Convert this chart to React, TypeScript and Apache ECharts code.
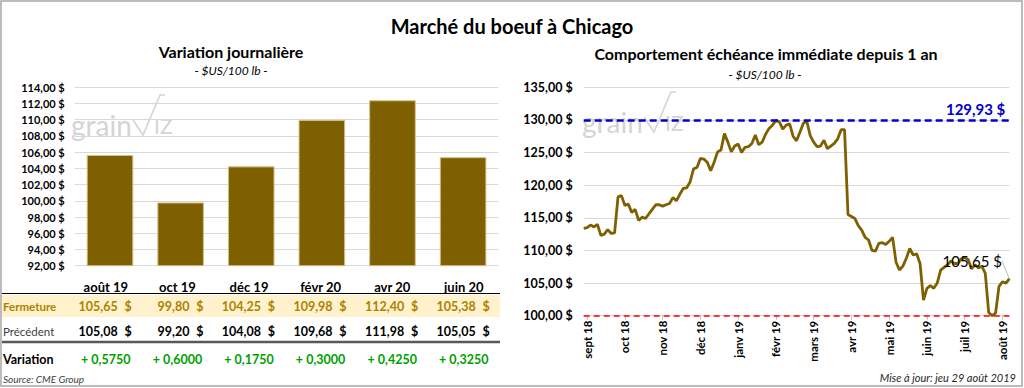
import React, { useEffect, useRef } from 'react';
import * as echarts from 'echarts';

// ---------- Left chart / table data ----------
const contracts = ['août 19', 'oct 19', 'déc 19', 'févr 20', 'avr 20', 'juin 20'];
const closePrices = [105.65, 99.8, 104.25, 109.98, 112.4, 105.38];
const previousPrices = [105.08, 99.2, 104.08, 109.68, 111.98, 105.05];
const variations = [0.575, 0.6, 0.175, 0.3, 0.425, 0.325];
const barAxis = { min: 92, max: 114, interval: 2 };

// ---------- Right chart data ----------
const dailyPrices = [
  113.4, 113.5, 113.9, 113.6, 114.0, 112.3, 112.5, 113.2, 112.6, 112.7,
  118.2, 118.4, 116.9, 117.1, 115.8, 116.3, 114.6, 115.1, 114.9, 115.6,
  116.3, 117.0, 117.0, 116.8, 117.0, 117.2, 118.1, 117.6, 118.6, 119.5,
  119.6, 120.5, 122.5, 122.7, 124.1, 124.0, 123.5, 122.2, 123.5, 125.1,
  125.4, 127.9, 126.6, 125.1, 126.0, 126.3, 125.0, 125.8, 125.9, 126.4,
  127.7, 126.2, 126.6, 127.8, 128.7, 129.2, 129.93, 129.7, 128.6, 129.2,
  129.4, 127.5, 126.8, 128.1, 129.5, 129.8, 127.6, 126.6, 125.9, 126.0,
  126.9, 125.6, 126.0, 126.4, 127.1, 128.5, 128.5, 115.5, 115.2, 114.9,
  113.8, 113.1, 112.0, 111.6, 110.0, 109.9, 111.1, 111.2, 110.9, 111.4,
  112.0, 108.2, 107.0, 107.6, 108.8, 110.3, 109.3, 109.5, 108.0, 102.4,
  104.2, 104.6, 104.2, 105.0, 107.0, 107.4, 107.8, 108.4, 108.0, 108.0,
  108.7, 108.9, 108.6, 107.2, 107.8, 107.3, 107.6, 106.5, 100.5, 100.0,
  100.4, 104.5, 105.2, 105.0, 105.65,
];
const monthLabels = ['sept 18', 'oct 18', 'nov 18', 'déc 18', 'janv 19', 'févr 19', 'mars 19', 'avr 19', 'mai 19', 'juin 19', 'juil 19', 'août 19'];
const monthStartIndex = [1, 12, 23, 34, 45, 56, 67, 78, 89, 100, 111, 122];
const yearHigh = 129.93;
const yearLow = 100.0;
const lineAxis = { min: 100, max: 135, interval: 5 };

const FONT = 'Lato';
const GOLD_TEXT = '#AD8200';
const fmt2 = (v: number) => v.toFixed(2).replace('.', ',');
const fmtMoney = (v: number) => fmt2(v) + ' $';
const fmtVar = (v: number) => (v >= 0 ? '+ ' : '- ') + Math.abs(v).toFixed(4).replace('.', ',');

function txt(text: string, x: number, y: number, opts: any = {}) {
  const align = opts.align || 'left';
  return {
    type: 'text',
    x,
    y,
    silent: true,
    z: 10,
    style: {
      text,
      fill: opts.color || '#000',
      fontSize: opts.size || 12,
      fontWeight: opts.weight || 'normal',
      fontStyle: opts.style || 'normal',
      fontFamily: FONT,
      align,
      textAlign: align,
      verticalAlign: 'middle',
      textVerticalAlign: 'middle',
    },
  };
}

function watermark(x: number, y: number) {
  const c = '#D4D4D4';
  return {
    type: 'group',
    x,
    y,
    silent: true,
    z: 1,
    children: [
      { type: 'text', x: 0, y: 0, style: { text: 'grain', fill: c, fontSize: 28, fontFamily: FONT, align: 'left', textAlign: 'left', verticalAlign: 'middle', textVerticalAlign: 'middle' } },
      { type: 'polyline', shape: { points: [[62, -5], [72, 10], [89, -30], [94, -30]] }, style: { stroke: c, lineWidth: 1.6, fill: 'none' } },
      { type: 'text', x: 83, y: 0, style: { text: 'IZ', fill: c, fontSize: 21, fontFamily: FONT, align: 'left', textAlign: 'left', verticalAlign: 'middle', textVerticalAlign: 'middle' } },
    ],
  };
}

export default function App() {
  const ref = useRef<HTMLDivElement>(null);

  useEffect(() => {
    if (!ref.current) return;
    const chart = echarts.init(ref.current, undefined, { renderer: 'svg' });

    const dayCategories = dailyPrices.map((_, i) => {
      const k = monthStartIndex.indexOf(i);
      return k >= 0 ? monthLabels[k] : String(i);
    });
    const isMonthTick = (idx: number) => monthStartIndex.indexOf(idx) >= 0;

    const lastIdx = dailyPrices.length - 1;
    const lineData: any[] = dailyPrices.map((v, i) =>
      i === lastIdx
        ? {
            value: v,
            symbol: 'circle',
            symbolSize: 1,
            label: {
              show: true,
              position: 'top',
              formatter: fmtMoney(v),
              color: '#000',
              fontSize: 15,
              fontFamily: FONT,
            },
          }
        : v
    );

    const colCenter = (j: number) => 105.8 + 71.6 * j;

    const graphic: any[] = [
      { type: 'rect', silent: true, z: 0, shape: { x: 1, y: 1, width: 1021, height: 385 }, style: { fill: 'none', stroke: '#A6A6A6', lineWidth: 1.5 } },
      txt('Marché du boeuf à Chicago', 512, 26, { size: 20, weight: 'bold', align: 'center' }),
      txt('Variation journalière', 231, 51, { size: 16, weight: 'bold', align: 'center' }),
      txt('- $US/100 lb -', 231, 70, { size: 12, style: 'italic', align: 'center' }),
      txt('Comportement échéance immédiate depuis 1 an', 766, 53, { size: 16, weight: 'bold', align: 'center' }),
      txt('- $US/100 lb -', 765, 74, { size: 12, style: 'italic', align: 'center' }),
      watermark(71, 125),
      watermark(582, 122),
      // table
      { type: 'rect', silent: true, z: 2, shape: { x: 2, y: 295, width: 498, height: 22 }, style: { fill: '#FFF2CC' } },
      { type: 'line', silent: true, z: 3, shape: { x1: 2, y1: 293.5, x2: 500, y2: 293.5 }, style: { stroke: '#000', lineWidth: 1.2 } },
      { type: 'line', silent: true, z: 3, shape: { x1: 2, y1: 342, x2: 500, y2: 342 }, style: { stroke: '#595959', lineWidth: 2.5 } },
      txt('Fermeture', 3, 306.5, { size: 11.5, weight: 'bold', color: GOLD_TEXT }),
      txt('Précédent', 3, 331, { size: 11.5, color: '#404040' }),
      txt('Variation', 3, 359, { size: 12.5, weight: 'bold' }),
      txt('Source: CME Group', 3, 379, { size: 10, style: 'italic', color: '#404040' }),
      txt('Mise à jour: jeu 29 août 2019', 1016, 377, { size: 11, style: 'italic', color: '#262626', align: 'right' }),
    ];
    contracts.forEach((c, j) => {
      const cx = colCenter(j);
      graphic.push(txt(c, cx, 286.5, { size: 13, weight: 'bold', align: 'center' }));
      graphic.push(txt(fmt2(closePrices[j]), cx + 12, 306.5, { size: 12.5, weight: 'bold', color: GOLD_TEXT, align: 'right' }));
      graphic.push(txt('$', cx + 26, 306.5, { size: 12.5, weight: 'bold', color: GOLD_TEXT, align: 'right' }));
      graphic.push(txt(fmt2(previousPrices[j]), cx + 12, 331, { size: 12.5, weight: 'bold', align: 'right' }));
      graphic.push(txt('$', cx + 26, 331, { size: 12.5, weight: 'bold', align: 'right' }));
      graphic.push(txt(fmtVar(variations[j]), cx, 359, { size: 12.5, weight: 'bold', color: '#00A000', align: 'center' }));
    });

    const option: any = {
      animation: false,
      backgroundColor: '#ffffff',
      textStyle: { fontFamily: FONT },
      grid: [
        { left: 74.7, top: 87.3, width: 423.7, height: 178.4 },
        { left: 583.7, top: 87.3, width: 425.6, height: 228.4 },
      ],
      xAxis: [
        {
          gridIndex: 0,
          type: 'category',
          data: contracts,
          axisLabel: { show: false },
          axisTick: { show: false },
          axisLine: { show: false },
        },
        {
          gridIndex: 1,
          type: 'category',
          data: dayCategories,
          boundaryGap: false,
          axisLabel: {
            interval: (idx: number) => isMonthTick(idx),
            rotate: 90,
            margin: 5,
            fontSize: 11.5,
            fontWeight: 'bold',
            color: '#000',
            fontFamily: FONT,
          },
          axisTick: {
            show: true,
            interval: (idx: number) => isMonthTick(idx),
            length: 4,
            lineStyle: { color: '#BFBFBF' },
          },
          axisLine: { show: true, lineStyle: { color: '#D9D9D9' } },
        },
      ],
      yAxis: [
        {
          gridIndex: 0,
          type: 'value',
          min: barAxis.min,
          max: barAxis.max,
          interval: barAxis.interval,
          axisLabel: { formatter: (v: number) => fmtMoney(v), fontSize: 11, fontWeight: 'bold', color: '#000', margin: 10, fontFamily: FONT },
          splitLine: { lineStyle: { color: '#D9D9D9', width: 1.2 } },
          axisLine: { show: false },
          axisTick: { show: false },
        },
        {
          gridIndex: 1,
          type: 'value',
          min: lineAxis.min,
          max: lineAxis.max,
          interval: lineAxis.interval,
          axisLabel: { formatter: (v: number) => fmtMoney(v), fontSize: 12.5, fontWeight: 'bold', color: '#000', margin: 11, fontFamily: FONT },
          splitLine: { lineStyle: { color: '#D9D9D9', width: 1.2 } },
          axisLine: { show: false },
          axisTick: { show: false },
        },
      ],
      series: [
        {
          type: 'bar',
          xAxisIndex: 0,
          yAxisIndex: 0,
          data: closePrices,
          barWidth: '66%',
          itemStyle: { color: '#7F6000', borderColor: '#D4C08A', borderWidth: 1 },
          silent: true,
        },
        {
          type: 'line',
          xAxisIndex: 1,
          yAxisIndex: 1,
          data: lineData,
          symbol: 'none',
          showSymbol: true,
          showAllSymbol: true,
          silent: true,
          z: 3,
          lineStyle: { color: '#7F6000', width: 2.8 },
          itemStyle: { color: '#7F6000' },
          labelLayout: { dx: -37, dy: -5 },
          labelLine: { show: true, lineStyle: { color: '#BFBFBF', width: 1 } },
          markLine: {
            silent: true,
            symbol: ['none', 'none'],
            z: 4,
            data: [
              {
                yAxis: yearHigh,
                lineStyle: { color: '#0000CC', type: [7, 4], width: 2.6 },
                label: {
                  show: true,
                  position: 'insideEndTop',
                  formatter: fmtMoney(yearHigh),
                  color: '#0000CC',
                  fontWeight: 'bold',
                  fontSize: 15,
                  fontFamily: FONT,
                  distance: 4,
                },
              },
              {
                yAxis: yearLow,
                lineStyle: { color: '#FF0000', type: [6, 4], width: 1.6 },
                label: { show: false },
              },
            ],
          },
        },
      ],
      graphic,
    };

    chart.setOption(option);
    return () => chart.dispose();
  }, []);

  return (
    <div
      ref={ref}
      style={{ position: 'absolute', left: 0, top: 0, width: 1024, height: 388, background: '#fff' }}
    />
  );
}
